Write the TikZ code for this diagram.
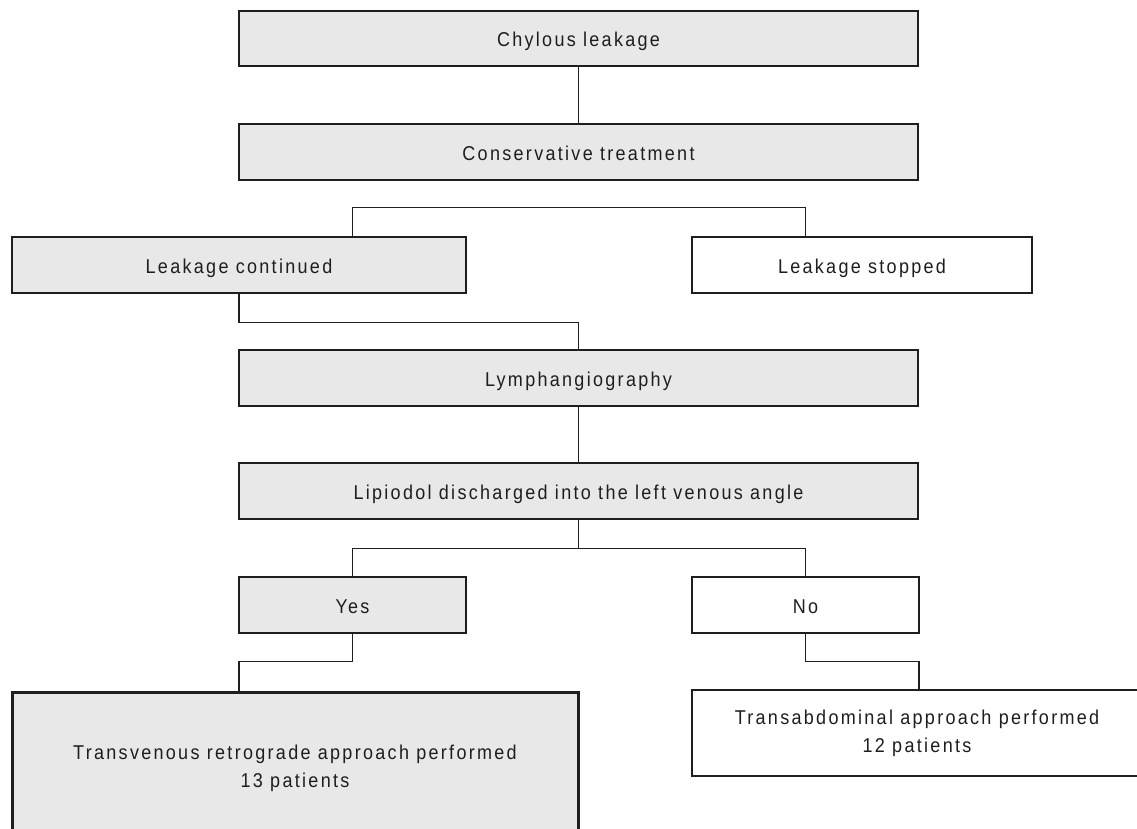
\documentclass[tikz,border=0pt]{standalone}
\usepackage{fontspec}
\newfontfamily\lab{Liberation Sans}[LetterSpace=11.5,FakeStretch=0.9]
\definecolor{boxfill}{RGB}{232,232,232}
\definecolor{ink}{RGB}{30,30,30}
\tikzset{
  box/.style={draw=ink, line width=1.4pt, fill=boxfill, inner sep=0pt, align=center,
    font=\lab\fontsize{20}{28}\selectfont, text=ink},
  wbox/.style={box, fill=white},
  one/.style={text height=17pt, text depth=0pt},
  link/.style={draw=ink, line width=1.3pt},
}
\begin{document}
\begin{tikzpicture}[x=1pt,y=-1pt]
\useasboundingbox (0,0) rectangle (1137,829);
\clip (0,0) rectangle (1137,829);
\node[box, one, minimum width=679pt, minimum height=55pt] (chyl) at (578.5,38.5) {Chylous leakage};
\node[box, one, minimum width=679pt, minimum height=56pt] (cons) at (578.5,152) {Conservative treatment};
\node[box, one, minimum width=454pt, minimum height=56pt] (cont) at (239,265) {Leakage continued};
\node[wbox, one, minimum width=340pt, minimum height=56pt] (stop) at (862,265) {Leakage stopped};
\node[box, one, minimum width=679pt, minimum height=56pt] (lymph) at (578.5,378) {Lymphangiography};
\node[box, one, minimum width=679pt, minimum height=56pt] (lip) at (578.5,491) {Lipiodol discharged into the left venous angle};
\node[box, one, minimum width=227pt, minimum height=56pt] (yes) at (352.5,605) {Yes};
\node[wbox, one, minimum width=227pt, minimum height=56pt] (no) at (805.5,605) {No};
\node[box, line width=3pt, minimum width=566pt, minimum height=152pt] (tv) at (295,768) {Transvenous retrograde approach performed\\13 patients};
\node[wbox, minimum width=450pt, minimum height=86pt] (ta) at (917,733) {Transabdominal approach performed\\12 patients};

\draw[link] (chyl.south) -- (cons.north);
\draw[link] ([xshift=113.5pt]cont.north) -- ++(0,-29) -| ([xshift=-56.5pt]stop.north);
\draw[link] (cont.south) -- ++(0,29) -| (lymph.north);
\draw[link] (lymph.south) -- (lip.north);
\draw[link] (lip.south) -- ++(0,29) coordinate (j2);
\draw[link] (yes.north) |- (j2) -| (no.north);
\draw[link] (yes.south) -- ++(0,28) -| ([xshift=-56pt]tv.north);
\draw[link] (no.south) -- ++(0,28) -| ([xshift=2pt]ta.north);
\end{tikzpicture}
\end{document}
